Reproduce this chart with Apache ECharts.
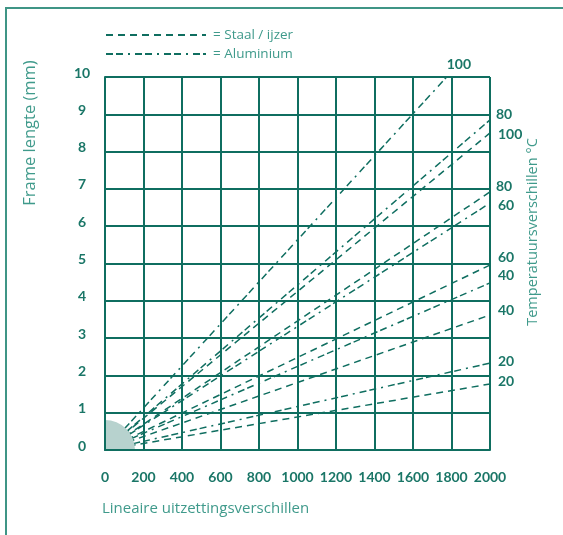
<!DOCTYPE html>
<html>
<head>
<meta charset="utf-8">
<script src="https://cdn.jsdelivr.net/npm/echarts@6/dist/echarts.min.js"></script>
<style>html,body{margin:0;padding:0;background:#fff;}#c{width:563px;height:535px;}</style>
</head>
<body>
<div id="c"></div>
<script>
// Tick values
var xTicks = [0, 200, 400, 600, 800, 1000, 1200, 1400, 1600, 1800, 2000];
var yTicks = [0, 1, 2, 3, 4, 5, 6, 7, 8, 9, 10];
// Temperature differences (°C)
var steelTemps = [20, 40, 60, 80, 100];
var aluTemps = [20, 40, 60, 80, 100];
// End points of each line (expansion length, frame length in mm); all lines start at origin
var steelEndX = [2000, 2000, 2000, 2000, 2000];
var steelEndY = [1.77, 3.62, 4.96, 6.92, 8.50];
var aluEndX = [2000, 2000, 2000, 2000, 1775];
var aluEndY = [2.33, 4.48, 6.62, 8.85, 10];

// label offsets (style only)
var steelLabelOffset = [[2, -2], [2, -4], [2, -8], [0, -5], [2, 2]];
var aluLabelOffset = [[2, -2], [2, -7], [2, 2], [0, -5], [-6, -13]];

var teal = '#0f6e60';
var textTeal = '#1a7667';
var lightTeal = '#3f9a8b';
var FONT = 'Lato, "Open Sans", sans-serif';
var TFONT = '"Open Sans", Lato, sans-serif';

var series = [];
function addSeries(name, temps, ex, ey, offs, dash) {
  for (var i = 0; i < temps.length; i++) {
    (function (t, i) {
      series.push({
        name: name,
        type: 'line',
        data: [[0, 0], [ex[i], ey[i]]],
        symbol: 'none',
        silent: true,
        z: 2,
        itemStyle: { color: teal },
        lineStyle: { color: teal, width: 1.5, type: dash },
        endLabel: {
          show: true,
          formatter: function () { return String(t); },
          color: textTeal,
          fontFamily: FONT,
          fontWeight: 'bold',
          fontSize: 14,
          distance: 6,
          offset: offs[i]
        }
      });
    })(temps[i], i);
  }
}
addSeries('Staal / ijzer', steelTemps, steelEndX, steelEndY, steelLabelOffset, [7, 5]);
addSeries('Aluminium', aluTemps, aluEndX, aluEndY, aluLabelOffset, [7, 3, 7, 5, 2, 5]);

// origin quarter disc
series.push({
  type: 'custom',
  silent: true,
  z: 4,
  data: [[0, 0]],
  renderItem: function (params, api) {
    var p = api.coord([api.value(0), api.value(1)]);
    return {
      type: 'sector',
      shape: { cx: p[0], cy: p[1], r: 30, r0: 0, startAngle: -Math.PI / 2, endAngle: 0, clockwise: true },
      style: { fill: '#b7d2ce' }
    };
  }
});

var chart = echarts.init(document.getElementById('c'), null, { renderer: 'canvas' });
chart.setOption({
  animation: false,
  backgroundColor: '#fff',
  grid: { left: 105, right: 73, top: 77, bottom: 85, containLabel: false },
  legend: {
    data: ['Staal / ijzer', 'Aluminium'],
    orient: 'vertical',
    left: 100,
    top: 23,
    itemWidth: 100,
    itemHeight: 10,
    itemGap: 5,
    selectedMode: false,
    formatter: '= {name}',
    itemStyle: { color: 'transparent', borderColor: 'transparent', borderWidth: 0, opacity: 0 },
    textStyle: { color: lightTeal, fontFamily: TFONT, fontSize: 13.5, padding: [0, 0, 0, 2] }
  },
  xAxis: {
    type: 'value',
    min: 0, max: 2000, interval: 200,
    z: 10,
    axisLine: { show: true, lineStyle: { color: teal, width: 2 } },
    axisTick: { show: false },
    splitLine: { show: true, lineStyle: { color: teal, width: 2 } },
    axisLabel: {
      margin: 20, color: textTeal, fontFamily: FONT, fontWeight: 'bold', fontSize: 14,
      formatter: function (v) { return xTicks.indexOf(v) >= 0 ? String(v) : ''; }
    }
  },
  yAxis: {
    type: 'value',
    min: 0, max: 10, interval: 1,
    z: 10,
    axisLine: { show: true, lineStyle: { color: teal, width: 2 } },
    axisTick: { show: false },
    splitLine: { show: true, lineStyle: { color: teal, width: 2 } },
    axisLabel: {
      margin: 23, align: 'center', verticalAlign: 'bottom', lineHeight: 8,
      color: textTeal, fontFamily: FONT, fontWeight: 'bold', fontSize: 14,
      formatter: function (v) { return yTicks.indexOf(v) >= 0 ? String(v) : ''; }
    }
  },
  graphic: [
    { type: 'rect', silent: true, shape: { x: 6, y: 8, width: 700, height: 700 },
      style: { fill: null, stroke: '#3f9586', lineWidth: 2 } },
    { type: 'text', x: 30, y: 133, rotation: Math.PI / 2,
      style: { text: 'Frame lengte (mm)', fill: lightTeal, font: '16.5px ' + TFONT, align: 'center', verticalAlign: 'middle' } },
    { type: 'text', x: 533, y: 232, rotation: Math.PI / 2,
      style: { text: 'Temperatuursverschillen °C', fill: lightTeal, font: '14.5px ' + TFONT, align: 'center', verticalAlign: 'middle' } },
    { type: 'text', x: 102, y: 509,
      style: { text: 'Lineaire uitzettingsverschillen', fill: lightTeal, font: '15px ' + TFONT, align: 'left', verticalAlign: 'middle' } }
  ],
  series: series
});
</script>
</body>
</html>
